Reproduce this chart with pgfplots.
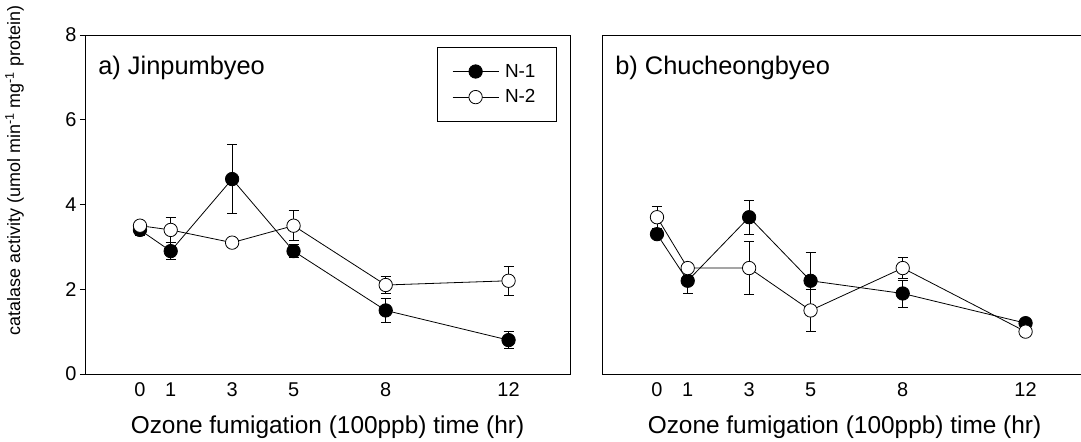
\documentclass[border=0pt]{standalone}
\usepackage{fontspec}
\setmainfont{Liberation Sans}
\usepackage{pgfplots}
\pgfplotsset{compat=1.18}
\pgfplotsset{
  panel/.style={
    scale only axis, width=485bp, height=339bp,
    xmin=-1.79, xmax=14, ymin=0, ymax=8,
    xtick={0,1,3,5,8,12},
    major x tick style={draw=none},
    ytick={0,2,4,6,8}, ytick pos=left,
    tick align=outside, major tick length=5bp,
    tick style={line width=0.8bp, black},
    tick label style={font=\fontsize{20}{23}\selectfont},
    /pgf/number format/assume math mode=true,
    xlabel={Ozone fumigation (100ppb) time (hr)},
    xlabel style={font=\fontsize{24.5}{28}\selectfont, yshift=-12bp},
    axis line style={line width=0.8bp},
    clip=false,
  },
  s1/.style={black, line width=0.8bp, mark=*, mark size=6.7bp,
    mark options={fill=black, line width=0.8bp},
    error bars/.cd, y dir=both, y explicit,
    error bar style={line width=0.8bp, black},
    error mark options={rotate=90, mark size=5bp, line width=0.8bp, black}},
  s2/.style={black, line width=0.8bp, mark=*, mark size=6.7bp,
    mark options={fill=white, line width=0.8bp},
    error bars/.cd, y dir=both, y explicit,
    error bar style={line width=0.8bp, black},
    error mark options={rotate=90, mark size=5bp, line width=0.8bp, black}},
}
\begin{document}
\begin{tikzpicture}
\useasboundingbox (-85bp,-68bp) rectangle (996bp,374bp);
\begin{axis}[panel, at={(0,0)},
  ylabel={catalase activity (umol min\textsuperscript{-1} mg\textsuperscript{-1} protein)},
  ylabel style={at={(axis description cs:-0.165,0.6)}, anchor=north, inner sep=0pt,
    font=\fontsize{18}{21}\selectfont},
  legend style={at={(rel axis cs:0.973,0.965)}, anchor=north east, draw=black,
    line width=0.8bp, font=\fontsize{19}{22}\selectfont,
    inner xsep=15bp, inner ysep=15bp, row sep=7bp,
    nodes={inner xsep=6bp}},
  legend cell align=left,
  legend image code/.code={\draw[mark repeat=2, mark phase=2, #1] plot coordinates {(0bp,0bp) (23bp,0bp) (46bp,0bp)};},
]
\addplot[s1] coordinates {
 (0,3.4) +- (0,0.12)
 (1,2.9) +- (0,0.2)
 (3,4.6) +- (0,0.82)
 (5,2.9) +- (0,0.15)
 (8,1.5) +- (0,0.28)
 (12,0.8) +- (0,0.2)
};
\addlegendentry{N-1}
\addplot[s2] coordinates {
 (0,3.5) +- (0,0.06)
 (1,3.4) +- (0,0.3)
 (3,3.1) +- (0,0.05)
 (5,3.5) +- (0,0.35)
 (8,2.1) +- (0,0.2)
 (12,2.2) +- (0,0.35)
};
\addlegendentry{N-2}
\node[anchor=base west, font=\fontsize{25.5}{29}\selectfont, inner sep=0pt] at (rel axis cs:0.027,0.882) {a) Jinpumbyeo};
\end{axis}
\begin{axis}[panel, at={(517bp,0)}, ytick=\empty]
\addplot[s1] coordinates {
 (0,3.3) +- (0,0.1)
 (1,2.2) +- (0,0.3)
 (3,3.7) +- (0,0.4)
 (5,2.2) +- (0,0.68)
 (8,1.9) +- (0,0.32)
 (12,1.2) +- (0,0.08)
};
\addplot[s2] coordinates {
 (0,3.7) +- (0,0.26)
 (1,2.5) +- (0,0.1)
 (3,2.5) +- (0,0.63)
 (5,1.5) +- (0,0.5)
 (8,2.5) +- (0,0.25)
 (12,1.0) +- (0,0.05)
};
\node[anchor=base west, font=\fontsize{25.5}{29}\selectfont, inner sep=0pt] at (rel axis cs:0.027,0.882) {b) Chucheongbyeo};
\end{axis}
\end{tikzpicture}
\end{document}
